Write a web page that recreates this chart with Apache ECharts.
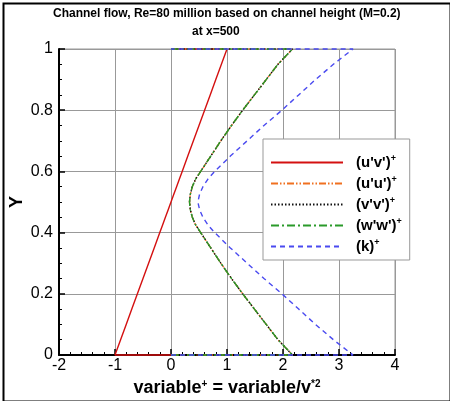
<!DOCTYPE html>
<html>
<head>
<meta charset="utf-8">
<script src="https://cdn.jsdelivr.net/npm/echarts@6/dist/echarts.min.js"></script>
<style>
html,body{margin:0;padding:0;background:#fff;}
#c{width:450px;height:401px;}
</style>
</head>
<body>
<div id="c"></div>
<script>
// Y positions across the channel (wall points repeated with zero value)
const yProfile = [0, 0, 0.05, 0.10, 0.15, 0.20, 0.25, 0.30, 0.35, 0.40, 0.425, 0.45, 0.475, 0.50, 0.525, 0.55, 0.575, 0.60, 0.65, 0.70, 0.75, 0.80, 0.85, 0.90, 0.95, 1, 1];
const uvPlus = [0, -1, -0.9, -0.8, -0.7, -0.6, -0.5, -0.4, -0.3, -0.2, -0.15, -0.1, -0.05, 0, 0.05, 0.1, 0.15, 0.2, 0.3, 0.4, 0.5, 0.6, 0.7, 0.8, 0.9, 1, 0];
const uuPlus = [0, 2.17, 1.91, 1.70, 1.49, 1.28, 1.08, 0.89, 0.71, 0.53, 0.44, 0.38, 0.345, 0.33, 0.345, 0.38, 0.44, 0.53, 0.71, 0.89, 1.08, 1.28, 1.49, 1.70, 1.91, 2.17, 0];
const vvPlus = [0, 2.17, 1.91, 1.70, 1.49, 1.28, 1.08, 0.89, 0.71, 0.53, 0.44, 0.38, 0.345, 0.33, 0.345, 0.38, 0.44, 0.53, 0.71, 0.89, 1.08, 1.28, 1.49, 1.70, 1.91, 2.17, 0];
const wwPlus = [0, 2.17, 1.91, 1.70, 1.49, 1.28, 1.08, 0.89, 0.71, 0.53, 0.44, 0.38, 0.345, 0.33, 0.345, 0.38, 0.44, 0.53, 0.71, 0.89, 1.08, 1.28, 1.49, 1.70, 1.91, 2.17, 0];
const kPlus  = [0, 3.25, 2.90, 2.58, 2.28, 1.98, 1.66, 1.36, 1.06, 0.78, 0.66, 0.57, 0.51, 0.48, 0.51, 0.57, 0.66, 0.78, 1.06, 1.36, 1.66, 1.98, 2.28, 2.58, 2.90, 3.25, 0];

const seriesNames = ["(u'v')", "(u'u')", "(v'v')", "(w'w')", "(k)"];
const seriesValues = [uvPlus, uuPlus, vvPlus, wwPlus, kPlus];
const seriesColors = ['#d41010', '#f07020', '#111111', '#2a9a2a', '#4a4af0'];
const seriesDash = ['solid', [7, 2, 1.5, 2, 1.5, 2], [1.5, 2], [8, 3, 2, 3], [5, 4]];

const titleText = 'Channel flow, Re=80 million based on channel height (M=0.2)';
const subtitleText = 'at x=500';

const FONT = '"Liberation Sans", Arial, Helvetica, sans-serif';

const chart = echarts.init(document.getElementById('c'), null, {renderer: 'canvas'});

const series = seriesNames.map((n, i) => ({
  name: n,
  type: 'line',
  data: seriesValues[i].map((x, j) => [x, yProfile[j]]),
  symbol: 'none',
  showSymbol: false,
  clip: false,
  animation: false,
  lineStyle: {color: seriesColors[i], width: 1.4, type: seriesDash[i]},
  itemStyle: {color: seriesColors[i]}
}));

chart.setOption({
  animation: false,
  backgroundColor: '#fff',
  title: [
    {text: titleText, left: 53, top: 8, padding: 0, textStyle: {fontFamily: FONT, fontSize: 12, fontWeight: 'bold', color: '#000'}},
    {text: subtitleText, left: 192, top: 26, padding: 0, textStyle: {fontFamily: FONT, fontSize: 12, fontWeight: 'bold', color: '#000'}}
  ],
  graphic: [{
    type: 'rect', left: 1, top: 1, shape: {width: 447, height: 398},
    style: {fill: 'none', stroke: '#000', lineWidth: 2}, silent: true, z: 100
  }],
  grid: {left: 59, top: 49, width: 336, height: 306, show: true, borderColor: '#999', borderWidth: 1,
         containLabel: false, outerBoundsMode: 'none'},
  legend: {
    data: seriesNames,
    left: 263, top: 139,
    orient: 'vertical',
    backgroundColor: '#fff',
    borderColor: '#999', borderWidth: 1,
    padding: [15, 8, 6, 7],
    itemWidth: 72, itemHeight: 14, itemGap: 5,
    selectedMode: false,
    itemStyle: {opacity: 0},
    lineStyle: {opacity: 1},
    formatter: n => n + '{sup|+}',
    textStyle: {
      fontFamily: FONT, fontSize: 15, fontWeight: 'bold', color: '#000', padding: [0, 0, 0, 8],
      rich: {sup: {fontFamily: FONT, fontSize: 9, fontWeight: 'bold', color: '#000', verticalAlign: 'top', padding: [0, 0, 8, 0]}}
    }
  },
  xAxis: {
    type: 'value', min: -2, max: 4, interval: 1,
    name: 'variable{sup|+} = variable/v{sup|*2}',
    nameLocation: 'middle', nameGap: 19,
    nameTextStyle: {
      fontFamily: FONT, fontSize: 18, fontWeight: 'bold', color: '#000',
      rich: {sup: {fontFamily: FONT, fontSize: 10, fontWeight: 'bold', color: '#000', verticalAlign: 'top', padding: [0, 0, 9, 0]}}
    },
    axisLine: {show: true, onZero: false, lineStyle: {color: '#000', width: 2}},
    axisTick: {show: true, inside: true, length: 6, lineStyle: {color: '#000', width: 1.5}},
    minorTick: {show: true, splitNumber: 5, length: 3, lineStyle: {color: '#000', width: 1}},
    axisLabel: {fontFamily: FONT, fontSize: 16, color: '#000', margin: 3},
    splitLine: {show: true, lineStyle: {color: '#999', width: 1}}
  },
  yAxis: {
    type: 'value', min: 0, max: 1, interval: 0.2,
    name: 'Y', nameLocation: 'middle', nameGap: 33, nameRotate: 90, nameMoveOverlap: false,
    nameTextStyle: {fontFamily: FONT, fontSize: 18, fontWeight: 'bold', color: '#000'},
    axisLine: {show: true, onZero: false, lineStyle: {color: '#000', width: 2}},
    axisTick: {show: true, inside: true, length: 6, lineStyle: {color: '#000', width: 1.5}},
    minorTick: {show: true, splitNumber: 4, length: 3, lineStyle: {color: '#000', width: 1}},
    axisLabel: {fontFamily: FONT, fontSize: 16, color: '#000', margin: 6},
    splitLine: {show: true, lineStyle: {color: '#999', width: 1}}
  },
  series: series
});
</script>
</body>
</html>
